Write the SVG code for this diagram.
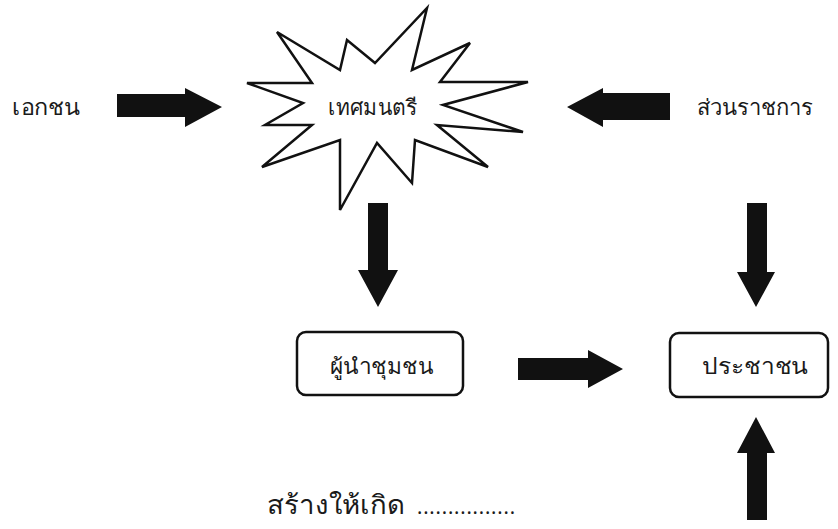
<svg xmlns="http://www.w3.org/2000/svg" width="838" height="529" viewBox="0 0 838 529">
<style>
.t{font-family:"Noto Sans","Liberation Sans",sans-serif;font-size:22px;fill:#1a1a1a;}
.box{fill:#fff;stroke:#111;stroke-width:2.5;}
.arr{fill:#111;}
.star{fill:#fff;stroke:#111;stroke-width:2.5;stroke-linejoin:miter;}
</style>
<rect width="838" height="529" fill="#fff"/>
<g id="node-private">
<text class="t" x="12" y="115" textLength="68" lengthAdjust="spacingAndGlyphs">เอกชน</text>
</g>
<g id="node-mayor">
<polygon class="star" points="277,32 340,70 347,40 375,63 427,8 412,70 470,43 440,82 528,82 443,105 523,132 437,125 488,167 415,140 412,183 377,143 340,210 340,140 262,167 312,125 265,125 303,103 247,83 312,83"/>
<text class="t" x="328" y="115" textLength="89" lengthAdjust="spacingAndGlyphs">เทศมนตรี</text>
</g>
<g id="node-gov">
<text class="t" x="697" y="115" textLength="116" lengthAdjust="spacingAndGlyphs">ส่วนราชการ</text>
</g>
<g id="node-leader">
<rect class="box" x="297" y="332" width="166" height="63" rx="9"/>
<text class="t" x="330" y="374" textLength="103" lengthAdjust="spacingAndGlyphs">ผู้นำชุมชน</text>
</g>
<g id="node-people">
<rect class="box" x="670" y="333" width="158" height="64" rx="9"/>
<text class="t" x="702" y="374" textLength="106" lengthAdjust="spacingAndGlyphs">ประชาชน</text>
</g>
<g id="node-create">
<text class="t" x="267" y="514" style="font-size:26px"><tspan textLength="138" lengthAdjust="spacingAndGlyphs">สร้างให้เกิด</tspan><tspan x="417" style="font-size:20px" textLength="98" lengthAdjust="spacing">................</tspan></text>
</g>
<g id="connectors">
<polygon class="arr" points="117,94 185,94 185,88 222,107 185,127 185,117 117,117"/>
<polygon class="arr" points="670,93 603,93 603,88 567,107 603,127 603,120 670,120"/>
<polygon class="arr" points="368,203 388,203 388,270 398,270 378,307 358,270 368,270"/>
<polygon class="arr" points="747,203 767,203 767,272 775,272 756,307 737,272 747,272"/>
<polygon class="arr" points="518,358 588,358 588,350 623,369 588,388 588,380 518,380"/>
<polygon class="arr" points="747,520 767,520 767,453 775,453 756,417 737,453 747,453"/>
</g>
</svg>
